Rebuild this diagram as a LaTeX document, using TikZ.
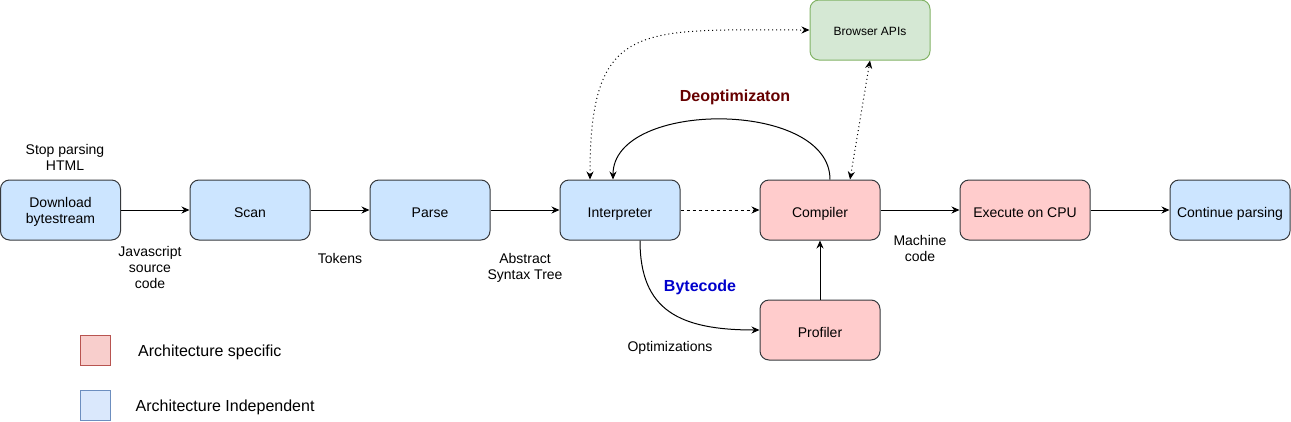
\documentclass[tikz,border=0pt]{standalone}
\usepackage{fontspec}
\setmainfont{Liberation Sans}
\usetikzlibrary{arrows.meta,calc}
\definecolor{blueF}{HTML}{CCE5FF}
\definecolor{redF}{HTML}{FFCCCC}
\definecolor{boxS}{HTML}{36393D}
\definecolor{greenF}{HTML}{D5E8D4}
\definecolor{greenS}{HTML}{82B366}
\definecolor{legRF}{HTML}{F8CECC}
\definecolor{legRS}{HTML}{B85450}
\definecolor{legBF}{HTML}{DAE8FC}
\definecolor{legBS}{HTML}{6C8EBF}
\definecolor{deoptC}{HTML}{660000}
\definecolor{bytecC}{HTML}{0000CC}
\begin{document}
\begin{tikzpicture}[x=1pt,y=-1pt,
 box/.style={draw=boxS,line width=1pt,rounded corners=9pt,minimum width=120pt,minimum height=60pt,inner sep=0pt,align=center,font=\fontsize{14}{16}\selectfont},
 oneline/.style={text height=15pt,text depth=1pt},
 bluebox/.style={box,fill=blueF},
 redbox/.style={box,fill=redF},
 lbl/.style={align=center,font=\fontsize{14}{16}\selectfont,inner sep=0pt},
 biglbl/.style={align=center,font=\fontsize{16}{19}\selectfont\bfseries,inner sep=0pt},
 leglbl/.style={anchor=west,font=\fontsize{16}{19}\selectfont,inner sep=0pt},
 tip/.tip={Stealth[length=8pt,width=7pt]},
 arr/.style={line width=1pt,-tip},
 dots/.style={line width=1pt,dash pattern=on 1pt off 3pt,tip-tip},
]
\useasboundingbox (0,0) rectangle (1291,421);

% boxes
\node[bluebox] (dl) at (60.5,210) {\rule{0pt}{14pt}Download\\bytestream};
\node[bluebox,oneline] (scan) at (250,210) {Scan};
\node[bluebox,oneline] (parse) at (430,210) {Parse};
\node[bluebox,oneline] (interp) at (620,210) {Interpreter};
\node[redbox,oneline] (comp) at (820,210) {Compiler};
\node[redbox,oneline,minimum width=130pt] (exec) at (1025,210) {Execute on CPU};
\node[bluebox,oneline] (cont) at (1230,210) {Continue parsing};
\node[redbox,oneline] (prof) at (820,330) {Profiler};
\node[box,draw=greenS,fill=greenF,font=\fontsize{12}{14}\selectfont,text height=12.5pt,text depth=1pt] (api) at (870,30) {Browser APIs};

% labels
\node[lbl] (stop) at (65,157.5) {Stop parsing\\HTML};
\node[lbl] (js) at (150,267.5) {Javascript\\source\\code};
\node[lbl] (tok) at (340,258) {Tokens};
\node[lbl] (ast) at (525,267.5) {Abstract\\Syntax Tree};
\node[lbl] (mc) at (920,248.5) {Machine\\code};
\node[lbl] (opt) at (670,348) {Optimizations};
\node[biglbl,text=bytecC] (bc) at (700,287) {Bytecode};
\node[biglbl,text=deoptC] (deo) at (735,97) {Deoptimizaton};

% legend
\node[draw=legRS,fill=legRF,line width=1pt,minimum width=30pt,minimum height=30pt,inner sep=0pt] (legR) at (95,350) {};
\node[draw=legBS,fill=legBF,line width=1pt,minimum width=30pt,minimum height=30pt,inner sep=0pt] (legB) at (95,405) {};
\node[leglbl] (legRt) at (138,352) {Architecture specific};
\node[leglbl] (legBt) at (135.5,407) {Architecture Independent};

% connectors
\draw[arr] (dl) -- (scan);
\draw[arr] (scan) -- (parse);
\draw[arr] (parse) -- (interp);
\draw[arr,dash pattern=on 3pt off 3pt] (interp) -- (comp);
\draw[arr] (comp) -- (exec);
\draw[arr] (exec) -- (cont);
\draw[arr] (prof) -- (comp);
\draw[arr] ([xshift=10pt]comp.north) .. controls +(0,-80) and +(0,-80) .. ([xshift=-7pt]interp.north);
\draw[arr] ([xshift=20pt]interp.south) .. controls +(0,70) and +(-80,0) .. (prof.west);
\draw[dots] ([xshift=-30pt]interp.north) .. controls +(0,-160) and +(-170,0) .. (api.west);
\draw[dots] ([xshift=30pt]comp.north) -- (api.south);
\end{tikzpicture}
\end{document}
